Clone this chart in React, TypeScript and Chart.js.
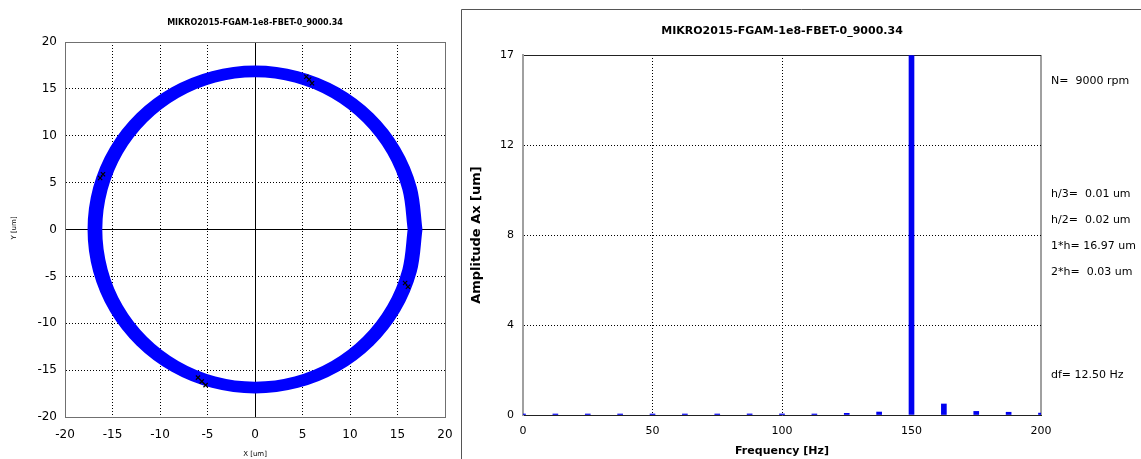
import React, { useEffect, useRef } from 'react';
import { Chart, registerables } from 'chart.js';

Chart.register(...registerables);

const FONT = '"DejaVu Sans", "Liberation Sans", sans-serif';
const chartTitle = 'MIKRO2015-FGAM-1e8-FBET-0_9000.34';

// Shaft-centre orbit: two successive revolutions sampled every 15 degrees, X/Y in um
const orbitOuterX = [17.1, 16.52, 14.81, 12.09, 8.55, 4.42, 0.0, -4.42, -8.55, -12.09, -14.81, -16.52, -17.1, -16.52, -14.81, -12.09, -8.55, -4.42, 0.0, 4.42, 8.55, 12.09, 14.81, 16.52, 17.1];
const orbitOuterY = [0.0, 4.39, 8.48, 11.99, 14.68, 16.37, 16.95, 16.37, 14.68, 11.99, 8.48, 4.39, 0.0, -4.39, -8.48, -11.99, -14.68, -16.37, -16.95, -16.37, -14.68, -11.99, -8.48, -4.39, 0.0];
const orbitInnerX = [16.6, 16.03, 14.38, 11.74, 8.3, 4.3, 0.0, -4.3, -8.3, -11.74, -14.38, -16.03, -16.6, -16.03, -14.38, -11.74, -8.3, -4.3, 0.0, 4.3, 8.3, 11.74, 14.38, 16.03, 16.6];
const orbitInnerY = [0.0, 4.34, 8.38, 11.85, 14.52, 16.2, 16.77, 16.2, 14.52, 11.85, 8.38, 4.34, 0.0, -4.34, -8.38, -11.85, -14.52, -16.2, -16.77, -16.2, -14.52, -11.85, -8.38, -4.34, 0.0];

// Once-per-revolution keyphasor marks
const keyX = [5.4, 5.7, 6.0, -16.3, -16.0, 15.8, 16.1, -6.0, -5.6, -5.2];
const keyY = [16.3, 16.0, 15.6, 5.5, 5.9, -5.7, -6.1, -15.8, -16.2, -16.6];

const orbitTickLabels = ['-20', '-15', '-10', '-5', '0', '5', '10', '15', '20'];

// Amplitude spectrum of Ax
const freqHz = [0, 12.5, 25, 37.5, 50, 62.5, 75, 87.5, 100, 112.5, 125, 137.5, 150, 162.5, 175, 187.5, 200];
const ampUm = [0.02, 0.01, 0.01, 0.01, 0.01, 0.01, 0.02, 0.05, 0.05, 0.04, 0.08, 0.14, 16.97, 0.52, 0.17, 0.13, 0.09];
const freqTickLabels = ['0', '50', '100', '150', '200'];
const ampTickLabels = ['0', '4', '8', '12', '17'];

const rpm = 9000;
const secondHarmonicUm = 0.03;
const resolutionHz = 12.5;

const ampAt = (f: number) => ampUm[freqHz.indexOf(f)];
const fmt = (v: number) => v.toFixed(2).padStart(5, ' ');

function drawText(
  ctx: CanvasRenderingContext2D,
  str: string,
  x: number,
  y: number,
  font: string,
  align: CanvasTextAlign = 'center',
  rotate = false
) {
  ctx.save();
  ctx.font = font;
  ctx.fillStyle = '#000';
  ctx.textAlign = align;
  ctx.textBaseline = 'middle';
  ctx.translate(x, y);
  if (rotate) ctx.rotate(-Math.PI / 2);
  ctx.fillText(str, 0, 0);
  ctx.restore();
}

const TRANSPARENT = 'rgba(0,0,0,0)';

function orbitAxis(axis: 'x' | 'y') {
  return {
    type: 'linear' as const,
    min: -20,
    max: 20,
    ticks: {
      stepSize: 5,
      padding: axis === 'x' ? 11 : 8,
      color: '#000',
      font: { family: FONT, size: 12 },
      callback: (_v: any, i: number) => orbitTickLabels[i],
    },
    grid: {
      drawTicks: false,
      lineWidth: 1,
      color: (c: any) => {
        const v = c.tick?.value;
        if (v === -20) return TRANSPARENT;
        if (v === 20) return '#707070';
        return '#000';
      },
    },
    border: {
      display: true,
      color: '#707070',
      width: 1,
      dash: (c: any) => {
        const v = c.tick?.value;
        return v === undefined || v === 0 || v === 20 || v === -20 ? [] : [1, 2];
      },
    },
    afterFit: (s: any) => {
      s.paddingLeft = 0;
      s.paddingRight = 0;
      s.paddingTop = 0;
      s.paddingBottom = 0;
      if (axis === 'x') s.height = 42;
      else s.width = 65;
    },
  };
}

function OrbitChart() {
  const ref = useRef<HTMLCanvasElement>(null);
  useEffect(() => {
    const pts = (xs: number[], ys: number[]) => xs.map((x, i) => ({ x, y: ys[i] }));
    const ringStyle = {
      showLine: true,
      borderColor: '#0000ff',
      backgroundColor: '#0000ff',
      borderWidth: 10,
      pointRadius: 0,
      tension: 0.34,
      borderCapStyle: 'round' as const,
      borderJoinStyle: 'round' as const,
      fill: false,
    };
    const orbitText = {
      id: 'orbitText',
      afterDraw(chart: any) {
        const ctx = chart.ctx as CanvasRenderingContext2D;
        drawText(ctx, chartTitle, 255, 23, `bold 8px ${FONT}`);
        drawText(ctx, 'X [um]', 255, 454, `7px ${FONT}`);
        drawText(ctx, 'Y [um]', 14, 228, `7px ${FONT}`, 'center', true);
      },
    };
    const chart = new Chart(ref.current!, {
      type: 'scatter',
      data: {
        datasets: [
          {
            data: pts(keyX, keyY),
            pointStyle: 'crossRot',
            pointRadius: 3,
            pointBorderWidth: 1.2,
            borderColor: '#000',
            backgroundColor: '#000',
            showLine: false,
            order: 0,
          },
          { data: pts(orbitOuterX, orbitOuterY), ...ringStyle, order: 1 },
          { data: pts(orbitInnerX, orbitInnerY), ...ringStyle, order: 2 },
        ],
      },
      options: {
        responsive: false,
        animation: false,
        layout: { padding: { top: 42, right: 15, left: 0, bottom: 0 } },
        plugins: { legend: { display: false }, tooltip: { enabled: false } },
        scales: { x: orbitAxis('x'), y: orbitAxis('y') } as any,
      },
      plugins: [orbitText],
    });
    return () => chart.destroy();
  }, []);
  return (
    <canvas
      ref={ref}
      width={460}
      height={459}
      style={{ position: 'absolute', left: 0, top: 0, width: 460, height: 459 }}
    />
  );
}

function SpectrumChart() {
  const ref = useRef<HTMLCanvasElement>(null);
  useEffect(() => {
    const notes = [
      { text: `N=  ${rpm} rpm`, y: 81 },
      { text: `h/3= ${fmt(ampAt(rpm / 60 / 3))} um`, y: 194 },
      { text: `h/2= ${fmt(ampAt(rpm / 60 / 2))} um`, y: 220 },
      { text: `1*h= ${fmt(ampAt(rpm / 60))} um`, y: 246 },
      { text: `2*h= ${fmt(secondHarmonicUm)} um`, y: 272 },
      { text: `df= ${resolutionHz.toFixed(2)} Hz`, y: 375 },
    ];
    const spectrumText = {
      id: 'spectrumText',
      afterDraw(chart: any) {
        const ctx = chart.ctx as CanvasRenderingContext2D;
        const { left, right, top, bottom } = chart.chartArea;
        const cx = (left + right) / 2;
        drawText(ctx, chartTitle, cx, 31, `bold 11px ${FONT}`);
        drawText(ctx, 'Frequency [Hz]', cx, 451, `bold 11px ${FONT}`);
        drawText(ctx, 'Amplitude Ax [um]', 16, (top + bottom) / 2, `bold 13px ${FONT}`, 'center', true);
        notes.forEach((n) => drawText(ctx, n.text, right + 10, n.y, `11px ${FONT}`, 'left'));
        // panel frame
        ctx.save();
        ctx.strokeStyle = '#555';
        ctx.lineWidth = 1;
        ctx.beginPath();
        ctx.moveTo(0.5, 459);
        ctx.lineTo(0.5, 9.5);
        ctx.lineTo(chart.width, 9.5);
        ctx.stroke();
        ctx.restore();
      },
    };
    const isTop = (v: number) => Math.abs(v - 17) < 1e-6;
    const chart = new Chart(ref.current!, {
      type: 'bar',
      data: {
        datasets: [
          {
            data: freqHz.map((f, i) => ({ x: f, y: ampUm[i] })),
            backgroundColor: '#0000f0',
            borderWidth: 0,
            barThickness: 5,
            minBarLength: 1,
            clip: 0,
          } as any,
        ],
      },
      options: {
        responsive: false,
        animation: false,
        layout: { padding: { top: 55, right: 100, left: 0, bottom: 0 } },
        plugins: { legend: { display: false }, tooltip: { enabled: false } },
        scales: {
          x: {
            type: 'linear',
            min: 0,
            max: 200,
            offset: false,
            ticks: {
              stepSize: 50,
              padding: 10,
              color: '#000',
              font: { family: FONT, size: 11 },
              callback: (_v: any, i: number) => freqTickLabels[i],
            },
            grid: {
              offset: false,
              drawTicks: false,
              color: (c: any) => {
                const v = c.tick?.value;
                if (v === 0) return TRANSPARENT;
                if (v === 200) return '#a0a0a0';
                return '#000';
              },
              lineWidth: (c: any) => (c.tick?.value === 200 ? 2 : 1),
            },
            border: {
              display: true,
              color: '#222',
              width: 1,
              dash: (c: any) => {
                const v = c.tick?.value;
                return v === undefined || v === 0 || v === 200 ? [] : [1, 2];
              },
            },
            afterFit: (s: any) => {
              s.height = 44;
            },
          },
          y: {
            type: 'linear',
            min: 0,
            max: 17,
            ticks: {
              stepSize: 4.25,
              padding: 9,
              color: '#000',
              font: { family: FONT, size: 11 },
              callback: (_v: any, i: number) => ampTickLabels[i],
            },
            grid: {
              drawTicks: false,
              color: (c: any) => {
                const v = c.tick?.value;
                if (v === 0) return TRANSPARENT;
                if (v !== undefined && isTop(v)) return '#222';
                return '#000';
              },
            },
            border: {
              display: true,
              color: '#a0a0a0',
              width: 2,
              dash: (c: any) => {
                const v = c.tick?.value;
                return v === undefined || v === 0 || isTop(v) ? [] : [1, 2];
              },
            },
            afterFit: (s: any) => {
              s.width = 62;
            },
          },
        } as any,
      },
      plugins: [spectrumText],
    });
    return () => chart.destroy();
  }, []);
  return (
    <canvas
      ref={ref}
      width={680}
      height={459}
      style={{ position: 'absolute', left: 461, top: 0, width: 680, height: 459 }}
    />
  );
}

export default function App() {
  return (
    <div
      style={{
        position: 'absolute',
        left: 0,
        top: 0,
        width: 1141,
        height: 459,
        background: '#fff',
        overflow: 'hidden',
      }}
    >
      <OrbitChart />
      <SpectrumChart />
    </div>
  );
}
